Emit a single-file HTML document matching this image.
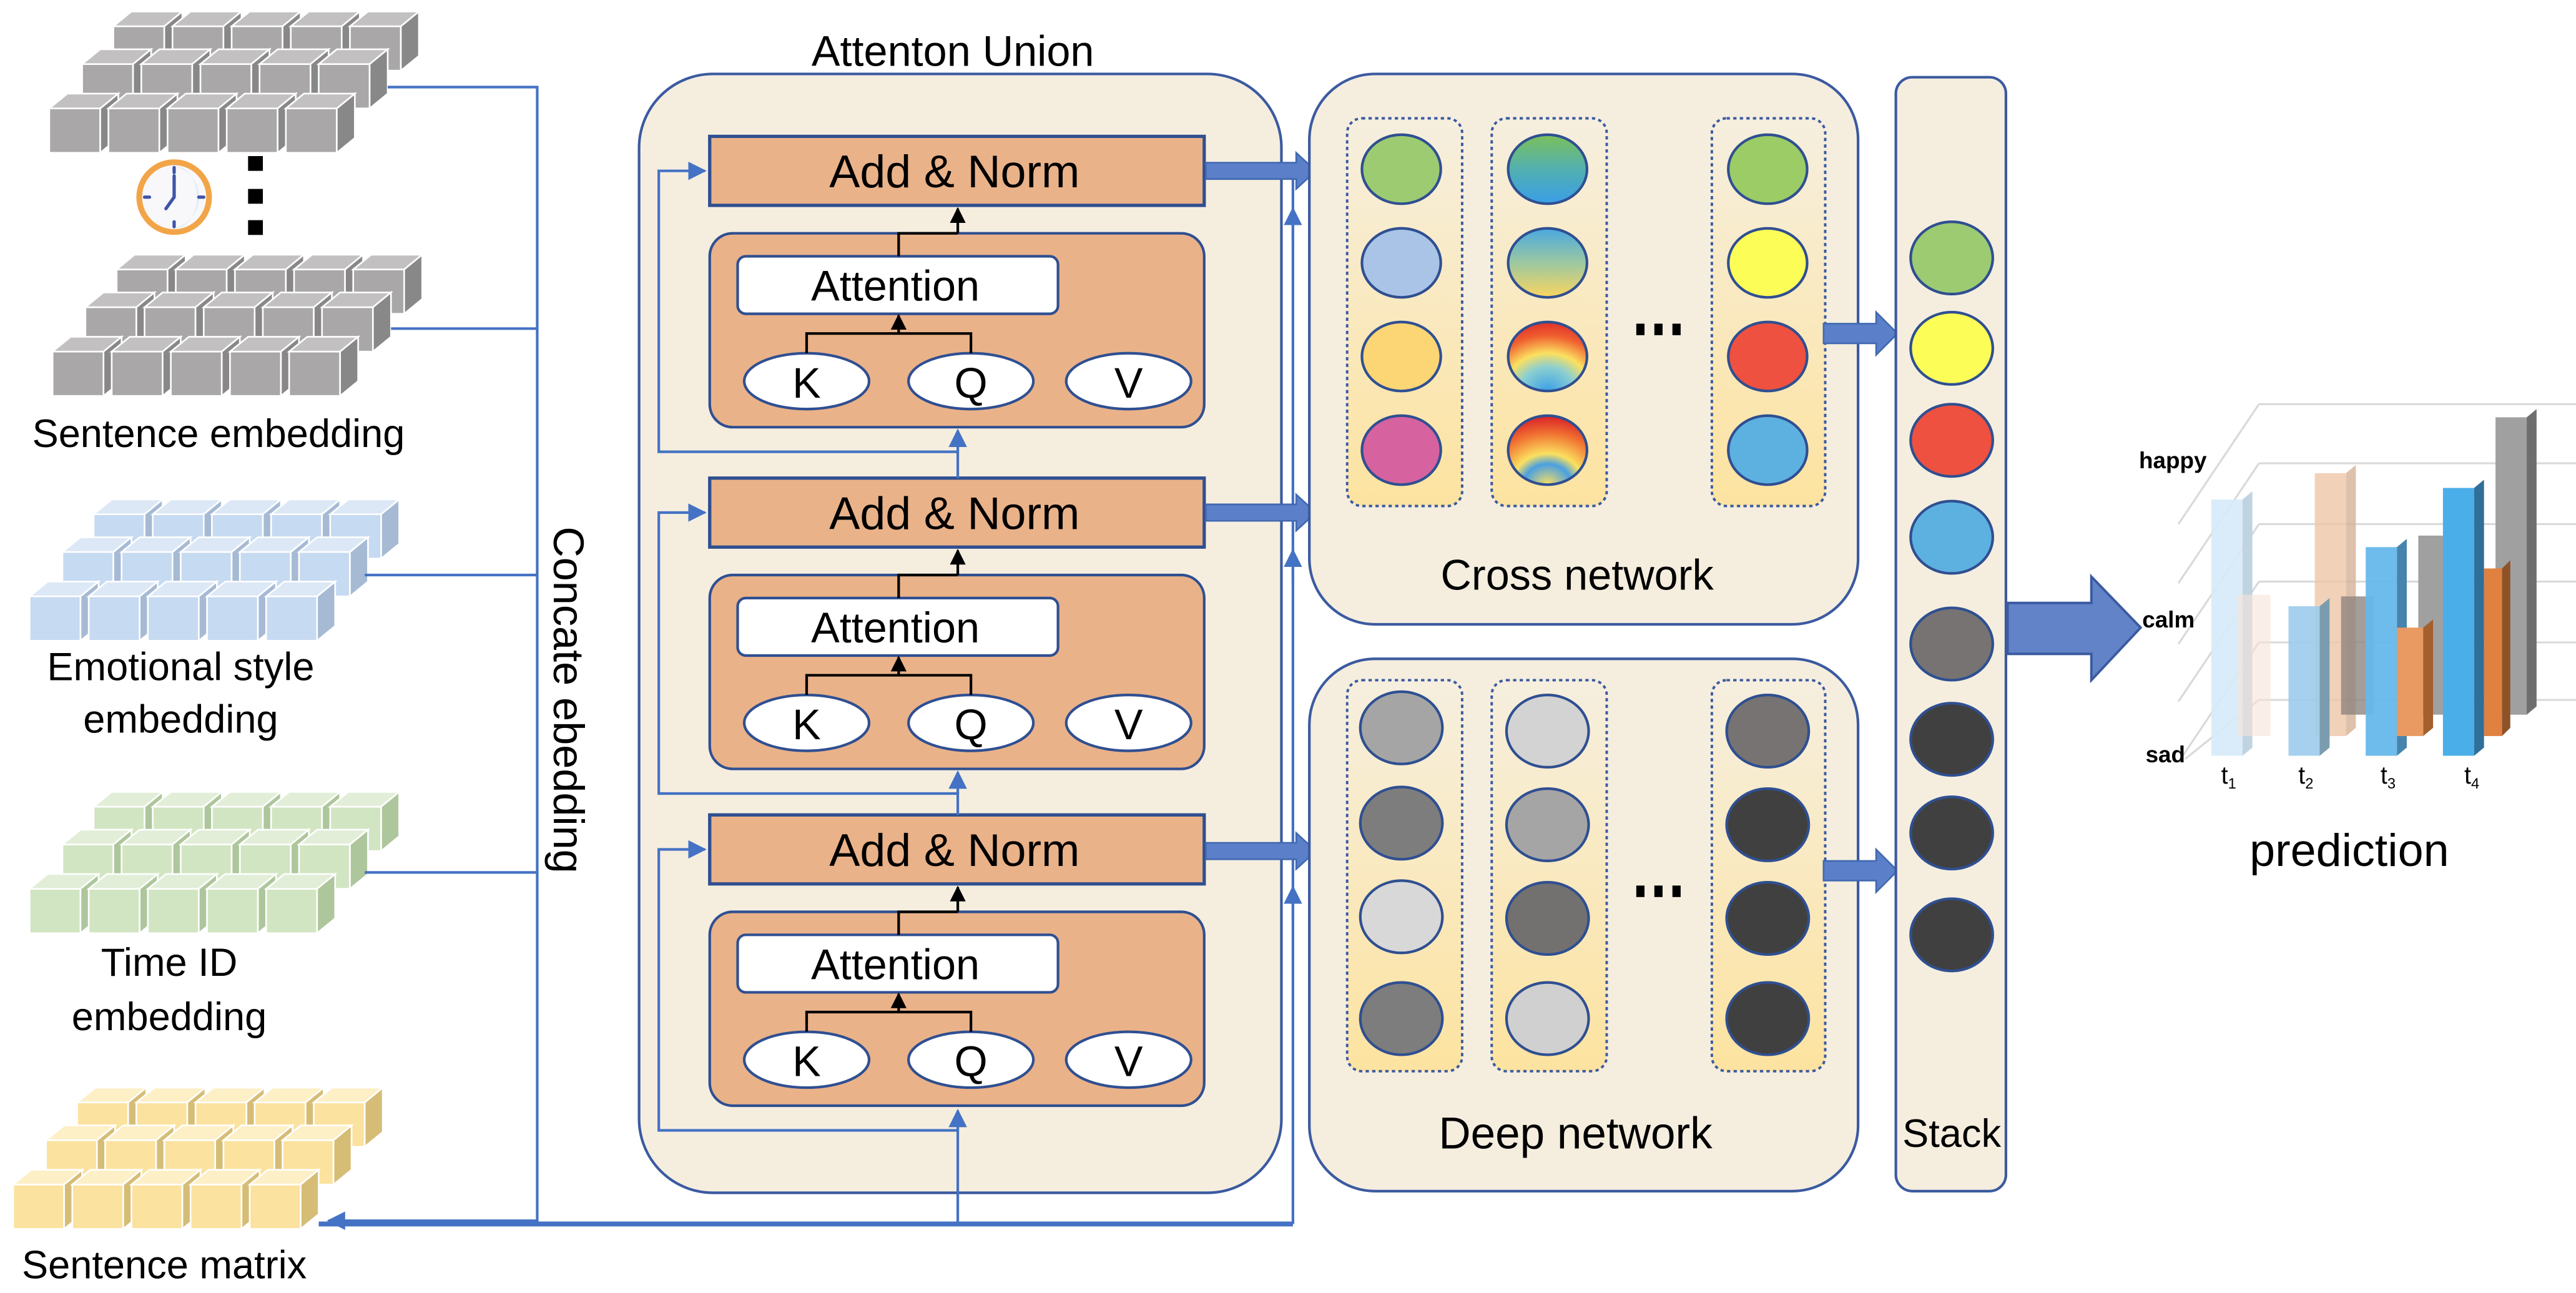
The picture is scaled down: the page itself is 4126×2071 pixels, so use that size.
<!DOCTYPE html>
<html><head><meta charset="utf-8"><style>
html,body{margin:0;padding:0;background:#fff;}
svg{display:block;}
text{font-family:"Liberation Sans","DejaVu Sans",sans-serif;fill:#000;}
</style></head><body>
<svg width="4126" height="2071" viewBox="0 0 1568 787" preserveAspectRatio="none" xmlns="http://www.w3.org/2000/svg">
<defs>
<g id="cg"><rect x="0" y="0" width="31" height="27" fill="#a9a7a7" stroke="#fff" stroke-width="1"/><polygon points="0,0 11,-9 42,-9 31,0" fill="#c2c0c0" stroke="#fff" stroke-width="1"/><polygon points="31,0 42,-9 42,18 31,27" fill="#888" stroke="#fff" stroke-width="1"/></g>
<g id="cb"><rect x="0" y="0" width="31" height="27" fill="#c6daf1" stroke="#fff" stroke-width="1"/><polygon points="0,0 11,-9 42,-9 31,0" fill="#dce8f6" stroke="#fff" stroke-width="1"/><polygon points="31,0 42,-9 42,18 31,27" fill="#a6bad4" stroke="#fff" stroke-width="1"/></g>
<g id="cgr"><rect x="0" y="0" width="31" height="27" fill="#d2e5c2" stroke="#fff" stroke-width="1"/><polygon points="0,0 11,-9 42,-9 31,0" fill="#e2eed8" stroke="#fff" stroke-width="1"/><polygon points="31,0 42,-9 42,18 31,27" fill="#aec69c" stroke="#fff" stroke-width="1"/></g>
<g id="cy"><rect x="0" y="0" width="31" height="27" fill="#fbe29e" stroke="#fff" stroke-width="1"/><polygon points="0,0 11,-9 42,-9 31,0" fill="#fdefc6" stroke="#fff" stroke-width="1"/><polygon points="31,0 42,-9 42,18 31,27" fill="#d6bd76" stroke="#fff" stroke-width="1"/></g>
<g id="rg"><use href="#cg" x="0"/><use href="#cg" x="36"/><use href="#cg" x="72"/><use href="#cg" x="108"/><use href="#cg" x="144"/></g>
<g id="rb"><use href="#cb" x="0"/><use href="#cb" x="36"/><use href="#cb" x="72"/><use href="#cb" x="108"/><use href="#cb" x="144"/></g>
<g id="rgr"><use href="#cgr" x="0"/><use href="#cgr" x="36"/><use href="#cgr" x="72"/><use href="#cgr" x="108"/><use href="#cgr" x="144"/></g>
<g id="ry"><use href="#cy" x="0"/><use href="#cy" x="36"/><use href="#cy" x="72"/><use href="#cy" x="108"/><use href="#cy" x="144"/></g>
<g id="sg"><use href="#rg" x="39" y="16"/><use href="#rg" x="20" y="39"/><use href="#rg" x="0" y="66"/></g>
<g id="sb"><use href="#rb" x="39" y="16"/><use href="#rb" x="20" y="39"/><use href="#rb" x="0" y="66"/></g>
<g id="sgr"><use href="#rgr" x="39" y="16"/><use href="#rgr" x="20" y="39"/><use href="#rgr" x="0" y="66"/></g>
<g id="sy"><use href="#ry" x="39" y="16"/><use href="#ry" x="20" y="39"/><use href="#ry" x="0" y="66"/></g>
<linearGradient id="colg" x1="0" y1="0" x2="0" y2="1"><stop offset="0" stop-color="#f6efdf"/><stop offset="1" stop-color="#fde3a0"/></linearGradient>
<linearGradient id="g1" x1="0" y1="0" x2="0" y2="1"><stop offset="0" stop-color="#7cc05a"/><stop offset="0.5" stop-color="#52b0b0"/><stop offset="1" stop-color="#3a9ee8"/></linearGradient>
<linearGradient id="g2" x1="0" y1="0" x2="0" y2="1"><stop offset="0" stop-color="#4aa8e0"/><stop offset="0.5" stop-color="#9cc8a0"/><stop offset="1" stop-color="#fbd560"/></linearGradient>
<radialGradient id="g3" cx="0.5" cy="1" r="1"><stop offset="0" stop-color="#3aa0e8"/><stop offset="0.35" stop-color="#8ccfd0"/><stop offset="0.55" stop-color="#fbe060"/><stop offset="0.8" stop-color="#f06030"/><stop offset="1" stop-color="#e0302a"/></radialGradient>
<radialGradient id="g4" cx="0.5" cy="1" r="1"><stop offset="0" stop-color="#fbe060"/><stop offset="0.3" stop-color="#4aa0e0"/><stop offset="0.45" stop-color="#fbe060"/><stop offset="0.75" stop-color="#f07030"/><stop offset="1" stop-color="#d8202a"/></radialGradient>
<marker id="ab" viewBox="0 0 10 10" refX="9" refY="5" markerWidth="7" markerHeight="7" orient="auto-start-reverse"><path d="M0,0L10,5L0,10z" fill="#4472c4"/></marker>
<marker id="ak" viewBox="0 0 10 10" refX="9" refY="5" markerWidth="6" markerHeight="6" orient="auto"><path d="M0,0L10,5L0,10z" fill="#000"/></marker>
<g id="barr"><path d="M0,-5 H55 V-11 L67,0 L55,11 V5 H0 Z" fill="#5b7fc8" stroke="#4169b0" stroke-width="1"/></g>
</defs>

<use href="#sg" x="30" y="0"/>
<use href="#sg" x="32" y="148"/>
<use href="#sb" x="18" y="297"/>
<use href="#sgr" x="18" y="475"/>
<use href="#sy" x="8" y="655"/>

<circle cx="106" cy="120" r="23" fill="#f2a548"/>
<circle cx="106" cy="120" r="19.5" fill="#f8f8fb"/>
<path d="M106,101 A19.5,19.5 0 0 1 106,139 A14,19 0 0 0 106,101z" fill="#dde9f8"/>
<g stroke="#3f55a8" stroke-width="2" stroke-linecap="round"><line x1="106" y1="102" x2="106" y2="105"/><line x1="106" y1="135" x2="106" y2="138"/><line x1="88" y1="120" x2="91" y2="120"/><line x1="121" y1="120" x2="124" y2="120"/><line x1="106" y1="120" x2="106" y2="107"/><line x1="106" y1="120" x2="101" y2="127"/></g>
<rect x="151" y="95" width="9" height="9"/><rect x="151" y="115" width="9" height="9"/><rect x="151" y="134" width="9" height="9"/>

<text x="133" y="272" font-size="24" text-anchor="middle">Sentence embedding</text>
<text x="110" y="414" font-size="24" text-anchor="middle">Emotional style</text>
<text x="110" y="446" font-size="24" text-anchor="middle">embedding</text>
<text x="103" y="594" font-size="24" text-anchor="middle">Time ID</text>
<text x="103" y="627" font-size="24" text-anchor="middle">embedding</text>
<text x="100" y="778" font-size="24" text-anchor="middle">Sentence matrix</text>
<text transform="translate(337,426) rotate(90)" font-size="26" text-anchor="middle">Concate ebedding</text>

<g stroke="#4472c4" stroke-width="1.6" fill="none">
<polyline points="236,53 327,53 327,745"/>
<line x1="238" y1="200" x2="327" y2="200"/>
<line x1="222" y1="350" x2="327" y2="350"/>
<line x1="222" y1="531" x2="327" y2="531"/>
</g>

<text x="580" y="40" font-size="26" text-anchor="middle">Attenton Union</text>
<rect x="389" y="45" width="391" height="681" rx="45" fill="#f5eedf" stroke="#3b5aa0" stroke-width="1.6"/>

<g id="layer1">
<rect x="432" y="83" width="301" height="42" fill="#eab289" stroke="#2f4f91" stroke-width="2"/>
<text x="581" y="114" font-size="28" text-anchor="middle">Add &amp; Norm</text>
<rect x="432" y="142" width="301" height="118" rx="14" fill="#eab289" stroke="#2f4f91" stroke-width="1.6"/>
<rect x="449" y="156" width="195" height="35" rx="5" fill="#fff" stroke="#2f4f91" stroke-width="1.6"/>
<text x="545" y="183" font-size="26" text-anchor="middle">Attention</text>
<ellipse cx="491" cy="232" rx="38" ry="17" fill="#fff" stroke="#2f4f91" stroke-width="1.6"/>
<ellipse cx="591" cy="232" rx="38" ry="17" fill="#fff" stroke="#2f4f91" stroke-width="1.6"/>
<ellipse cx="687" cy="232" rx="38" ry="17" fill="#fff" stroke="#2f4f91" stroke-width="1.6"/>
<text x="491" y="242" font-size="26" text-anchor="middle">K</text>
<text x="591" y="242" font-size="26" text-anchor="middle">Q</text>
<text x="687" y="242" font-size="26" text-anchor="middle">V</text>
<polyline points="491,215 491,203 591,203 591,215" fill="none" stroke="#000" stroke-width="1.6"/>
<line x1="547" y1="203" x2="547" y2="192" stroke="#000" stroke-width="1.6" marker-end="url(#ak)"/>
<polyline points="547,156 547,142 583,142" fill="none" stroke="#000" stroke-width="1.6"/>
<line x1="583" y1="142" x2="583" y2="127" stroke="#000" stroke-width="1.6" marker-end="url(#ak)"/>
</g>
<use href="#layer1" y="208"/>
<use href="#layer1" y="413"/>

<g stroke="#4472c4" stroke-width="1.6" fill="none">
<polyline points="583,291 583,275 401,275 401,104 429,104" marker-end="url(#ab)"/>
<line x1="583" y1="275" x2="583" y2="262" marker-end="url(#ab)"/>
<polyline points="583,496 583,483 401,483 401,312 429,312" marker-end="url(#ab)"/>
<line x1="583" y1="483" x2="583" y2="470" marker-end="url(#ab)"/>
<polyline points="583,688 401,688 401,517 429,517" marker-end="url(#ab)"/>
<line x1="583" y1="745" x2="583" y2="676" marker-end="url(#ab)"/>
<line x1="787" y1="745" x2="787" y2="100"/>
<line x1="787" y1="560" x2="787" y2="540" marker-end="url(#ab)"/>
<line x1="787" y1="355" x2="787" y2="335" marker-end="url(#ab)"/>
<line x1="787" y1="147" x2="787" y2="127" marker-end="url(#ab)"/>
</g>
<line x1="194" y1="745" x2="787" y2="745" stroke="#4472c4" stroke-width="3"/>
<line x1="327" y1="743" x2="200" y2="743" stroke="#4472c4" stroke-width="1.6" marker-end="url(#ab)"/>

<use href="#barr" x="734" y="104"/>
<use href="#barr" x="734" y="312"/>
<use href="#barr" x="734" y="518"/>

<rect x="797" y="45" width="334" height="335" rx="40" fill="#f5eedf" stroke="#3b5aa0" stroke-width="1.6"/>
<g fill="url(#colg)" stroke="#3b5aa0" stroke-width="1.5" stroke-dasharray="2,2">
<rect x="820" y="72" width="70" height="236" rx="9"/><rect x="908" y="72" width="70" height="236" rx="9"/><rect x="1042" y="72" width="69" height="236" rx="9"/>
</g>
<g stroke="#2f4f91" stroke-width="1.6">
<ellipse cx="853" cy="103" rx="24" ry="21" fill="#9dcb72"/>
<ellipse cx="853" cy="160" rx="24" ry="21" fill="#a9c4e6"/>
<ellipse cx="853" cy="217" rx="24" ry="21" fill="#fcd675"/>
<ellipse cx="853" cy="274" rx="24" ry="21" fill="#d6629f"/>
<ellipse cx="942" cy="103" rx="24" ry="21" fill="url(#g1)"/>
<ellipse cx="942" cy="160" rx="24" ry="21" fill="url(#g2)"/>
<ellipse cx="942" cy="217" rx="24" ry="21" fill="url(#g3)"/>
<ellipse cx="942" cy="274" rx="24" ry="21" fill="url(#g4)"/>
<ellipse cx="1076" cy="103" rx="24" ry="21" fill="#9bcc66"/>
<ellipse cx="1076" cy="160" rx="24" ry="21" fill="#fdfd57"/>
<ellipse cx="1076" cy="217" rx="24" ry="21" fill="#ee5140"/>
<ellipse cx="1076" cy="274" rx="24" ry="21" fill="#5db1e1"/>
</g>
<rect x="996" y="197" width="5" height="7"/><rect x="1007" y="197" width="5" height="7"/><rect x="1018" y="197" width="5" height="7"/>
<text x="960" y="359" font-size="26" text-anchor="middle">Cross network</text>

<rect x="797" y="401" width="334" height="324" rx="40" fill="#f5eedf" stroke="#3b5aa0" stroke-width="1.6"/>
<g fill="url(#colg)" stroke="#3b5aa0" stroke-width="1.5" stroke-dasharray="2,2">
<rect x="820" y="414" width="70" height="238" rx="9"/><rect x="908" y="414" width="70" height="238" rx="9"/><rect x="1042" y="414" width="69" height="238" rx="9"/>
</g>
<g stroke="#2f4f91" stroke-width="1.6">
<ellipse cx="853" cy="443" rx="25" ry="22" fill="#a5a5a5"/>
<ellipse cx="853" cy="501" rx="25" ry="22" fill="#7d7d7d"/>
<ellipse cx="853" cy="558" rx="25" ry="22" fill="#d8d8d8"/>
<ellipse cx="853" cy="620" rx="25" ry="22" fill="#7d7d7d"/>
<ellipse cx="942" cy="445" rx="25" ry="22" fill="#d3d3d3"/>
<ellipse cx="942" cy="502" rx="25" ry="22" fill="#a5a5a5"/>
<ellipse cx="942" cy="559" rx="25" ry="22" fill="#737070"/>
<ellipse cx="942" cy="620" rx="25" ry="22" fill="#d0d0d0"/>
<ellipse cx="1076" cy="445" rx="25" ry="22" fill="#767372"/>
<ellipse cx="1076" cy="502" rx="25" ry="22" fill="#404040"/>
<ellipse cx="1076" cy="559" rx="25" ry="22" fill="#404040"/>
<ellipse cx="1076" cy="620" rx="25" ry="22" fill="#404040"/>
</g>
<rect x="996" y="539" width="5" height="7"/><rect x="1007" y="539" width="5" height="7"/><rect x="1018" y="539" width="5" height="7"/>
<text x="959" y="699" font-size="27" text-anchor="middle">Deep network</text>

<path d="M1110,197 H1142 V190 L1155,203 L1142,216 V209 H1110Z" fill="#5b7fc8" stroke="#4169b0" stroke-width="1"/>
<path d="M1110,524 H1142 V517 L1155,530 L1142,543 V536 H1110Z" fill="#5b7fc8" stroke="#4169b0" stroke-width="1"/>

<rect x="1154" y="47" width="67" height="678" rx="10" fill="#f5eedf" stroke="#3b5aa0" stroke-width="1.6"/>
<g stroke="#2f4f91" stroke-width="1.6">
<ellipse cx="1188" cy="157" rx="25" ry="22" fill="#9dcb72"/>
<ellipse cx="1188" cy="212" rx="25" ry="22" fill="#fdfd57"/>
<ellipse cx="1188" cy="268" rx="25" ry="22" fill="#ee5140"/>
<ellipse cx="1188" cy="327" rx="25" ry="22" fill="#5db1e1"/>
<ellipse cx="1188" cy="392" rx="25" ry="22" fill="#767372"/>
<ellipse cx="1188" cy="450" rx="25" ry="22" fill="#404040"/>
<ellipse cx="1188" cy="507" rx="25" ry="22" fill="#404040"/>
<ellipse cx="1188" cy="569" rx="25" ry="22" fill="#404040"/>
</g>
<text x="1188" y="698" font-size="24" text-anchor="middle">Stack</text>

<path d="M1222,367 H1273 V351 L1303,382 L1273,414 V398 H1222Z" fill="#6383c8" stroke="#3b5aa0" stroke-width="1.5"/>

<g stroke="#d9d9d9" stroke-width="1.2">
<line x1="1375" y1="246" x2="1568" y2="246"/><line x1="1375" y1="282" x2="1568" y2="282"/><line x1="1375" y1="319" x2="1568" y2="319"/><line x1="1375" y1="354" x2="1568" y2="354"/><line x1="1375" y1="391" x2="1568" y2="391"/><line x1="1375" y1="426" x2="1568" y2="426"/>
<line x1="1375" y1="246" x2="1326" y2="319"/><line x1="1375" y1="282" x2="1326" y2="355"/><line x1="1375" y1="319" x2="1326" y2="392"/><line x1="1375" y1="354" x2="1326" y2="427"/><line x1="1375" y1="391" x2="1326" y2="464"/><line x1="1375" y1="426" x2="1330" y2="462"/>
</g>
<g>
<rect x="1346" y="304" width="19" height="156" fill="#d6eaf8" opacity="0.9"/><polygon points="1365,304 1371,299 1371,455 1365,460" fill="#c0d3e0"/>
<rect x="1362" y="362" width="20" height="86" fill="#f6e4d8" opacity="0.6"/>
<rect x="1409" y="288" width="19" height="160" fill="#efc6a8" opacity="0.8"/><polygon points="1428,288 1434,283 1434,443 1428,448" fill="#d6b196" opacity="0.8"/>
<rect x="1425" y="363" width="20" height="72" fill="#8e8480" opacity="0.8"/>
<rect x="1393" y="369" width="19" height="91" fill="#9ccbeb" opacity="0.9"/><polygon points="1412,369 1418,364 1418,455 1412,460" fill="#7a9cae"/>
<rect x="1472" y="326" width="16" height="109" fill="#a0a0a0"/>
<rect x="1440" y="333" width="19" height="127" fill="#66b8ea" opacity="0.95"/><polygon points="1459,333 1465,328 1465,455 1459,460" fill="#4784ad"/>
<rect x="1459" y="382" width="16" height="66" fill="#e89a62"/><polygon points="1475,382 1481,377 1481,443 1475,448" fill="#a3602c"/>
<rect x="1519" y="254" width="19" height="181" fill="#a0a0a0"/><polygon points="1538,254 1544,249 1544,430 1538,435" fill="#6e6e6e"/>
<rect x="1512" y="346" width="11" height="102" fill="#e0813f"/><polygon points="1523,346 1528,341 1528,443 1523,448" fill="#8e5229"/>
<rect x="1487" y="297" width="19" height="163" fill="#4aaee8"/><polygon points="1506,297 1512,292 1512,455 1506,460" fill="#2f6f99"/>
</g>
<g font-size="14" font-weight="bold">
<text x="1302" y="285">happy</text>
<text x="1304" y="382">calm</text>
<text x="1306" y="464">sad</text>
</g>
<g font-size="15">
<text x="1352" y="477">t<tspan font-size="9" dy="3">1</tspan></text>
<text x="1399" y="477">t<tspan font-size="9" dy="3">2</tspan></text>
<text x="1449" y="477">t<tspan font-size="9" dy="3">3</tspan></text>
<text x="1500" y="477">t<tspan font-size="9" dy="3">4</tspan></text>
</g>
<text x="1430" y="527" font-size="28" text-anchor="middle">prediction</text>
</svg>
</body></html>
